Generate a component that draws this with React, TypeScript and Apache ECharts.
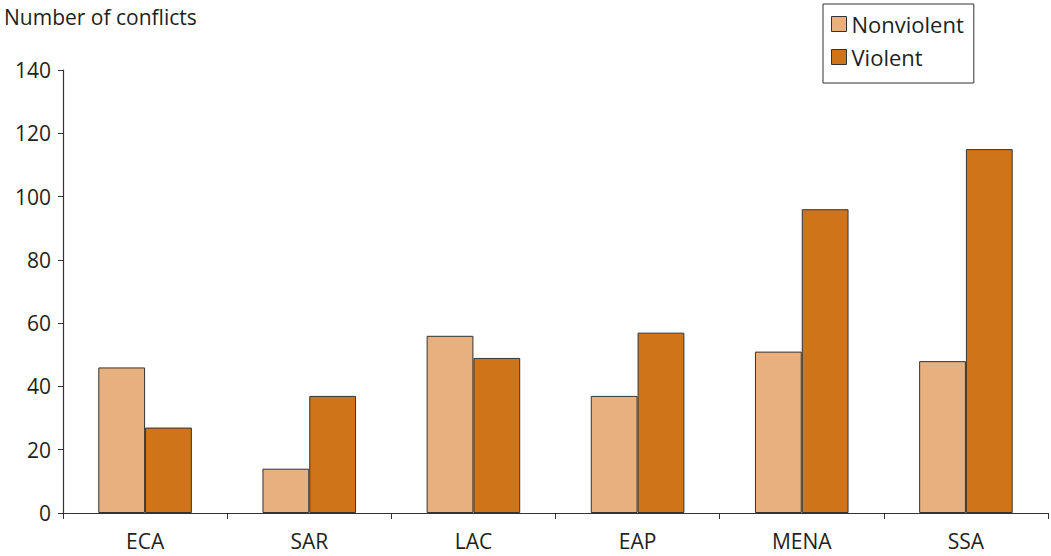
import React, { useEffect, useRef } from "react";
import * as echarts from "echarts";

const categories = ["ECA", "SAR", "LAC", "EAP", "MENA", "SSA"];
const nonviolent = [46, 14, 56, 37, 51, 48];
const violent = [27, 37, 49, 57, 96, 115];
const yTicks = { min: 0, max: 140, interval: 20 };

export default function App() {
  const ref = useRef<HTMLDivElement>(null);
  useEffect(() => {
    const chart = echarts.init(ref.current!, null, { renderer: "svg" });
    const font = "'Open Sans', sans-serif";
    const txt = "#231f20";
    chart.setOption({
      animation: false,
      textStyle: { fontFamily: font },
      grid: { left: 63, right: 3, top: 70, bottom: 43, containLabel: false },
      title: {
        text: "Number of conflicts",
        left: 0,
        top: 0,
        padding: [6, 4, 4, 4],
        textStyle: { fontFamily: font, fontSize: 21, fontWeight: "normal", color: txt },
      },
      legend: {
        orient: "vertical",
        left: 823,
        top: 4,
        icon: "rect",
        itemWidth: 15,
        itemHeight: 15,
        itemGap: 11,
        padding: [9, 10, 15, 8],
        borderColor: "#333",
        borderWidth: 1,
        itemStyle: { borderColor: "#333", borderWidth: 1 },
        textStyle: { fontFamily: font, fontSize: 22, color: txt, padding: [0, 0, 0, 0] },
        data: ["Nonviolent", "Violent"],
      },
      xAxis: {
        type: "category",
        data: categories,
        axisLine: { lineStyle: { color: "#333", width: 1.2 } },
        axisTick: { show: true, alignWithLabel: false, length: 6, lineStyle: { color: "#333" } },
        axisLabel: { fontFamily: font, fontSize: 21, color: txt, margin: 17 },
      },
      yAxis: {
        type: "value",
        min: yTicks.min,
        max: yTicks.max,
        interval: yTicks.interval,
        axisLine: { show: true, lineStyle: { color: "#333", width: 1.2 } },
        axisTick: { show: true, length: 5, lineStyle: { color: "#333" } },
        splitLine: { show: false },
        axisLabel: { fontFamily: font, fontSize: 21, color: txt, margin: 12 },
      },
      series: [
        {
          name: "Nonviolent",
          type: "bar",
          data: nonviolent,
          barGap: "0%",
          barCategoryGap: "43%",
          itemStyle: { color: "#e8b07e", borderColor: "#333", borderWidth: 1 },
        },
        {
          name: "Violent",
          type: "bar",
          data: violent,
          barGap: "0%",
          barCategoryGap: "43%",
          itemStyle: { color: "#cf7419", borderColor: "#333", borderWidth: 1 },
        },
      ],
    });
    return () => chart.dispose();
  }, []);
  return <div ref={ref} style={{ width: 1051, height: 556, position: "absolute", left: 0, top: 0 }} />;
}
